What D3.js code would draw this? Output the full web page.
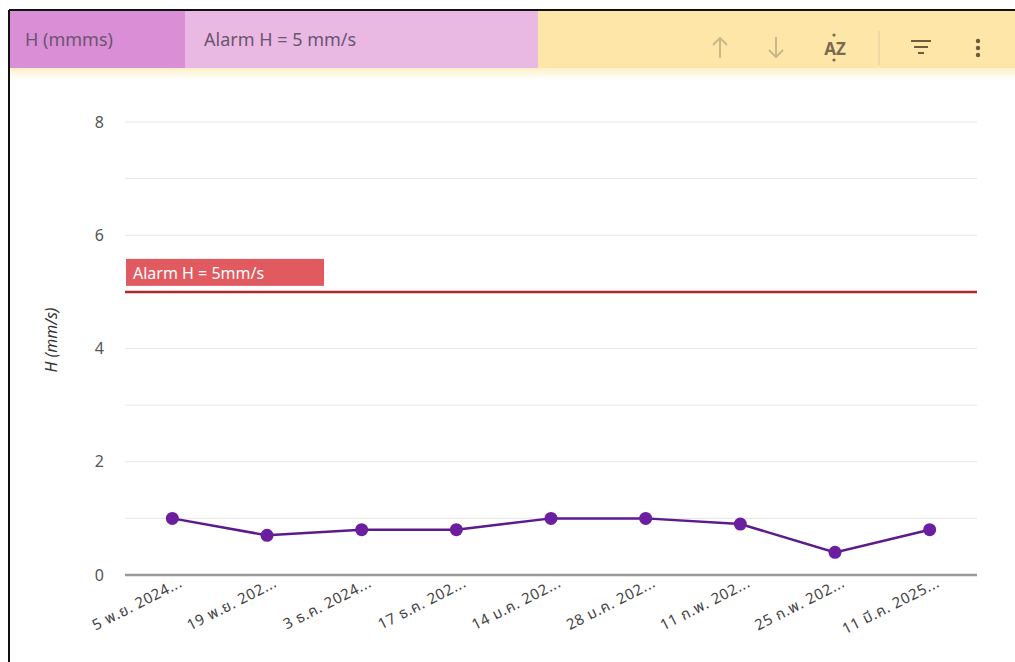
<!DOCTYPE html>
<html>
<head>
<meta charset="utf-8">
<script src="https://cdn.jsdelivr.net/npm/d3@7/dist/d3.min.js"></script>
<style>
  body { margin: 0; background: #fff; font-family: "Noto Sans", "DejaVu Sans", sans-serif; }
</style>
</head>
<body>
<script>
// data
const dates = ["5 พ.ย. 2024...", "19 พ.ย. 202...", "3 ธ.ค. 2024...", "17 ธ.ค. 202...",
  "14 ม.ค. 202...", "28 ม.ค. 202...", "11 ก.พ. 202...", "25 ก.พ. 202...", "11 มี.ค. 2025..."];
const hValues = [1.0, 0.7, 0.8, 0.8, 1.0, 1.0, 0.9, 0.4, 0.8];
const yTicks = [0, 2, 4, 6, 8];
const gridTicks = [0, 1, 2, 3, 4, 5, 6, 7, 8];
const alarmValue = 5;
const alarmLabel = "Alarm H = 5mm/s";
const headerCells = ["H (mmms)", "Alarm H = 5 mm/s"];

const W = 1015, H = 662;
const plot = { left: 125, right: 977, top: 122, bottom: 575 };

const svg = d3.select("body").append("svg")
    .attr("width", W)
    .attr("height", H);

// gradient under the header
const defs = svg.append("defs");
const grad = defs.append("linearGradient").attr("id", "fade")
    .attr("x1", 0).attr("y1", 0).attr("x2", 0).attr("y2", 1);
grad.append("stop").attr("offset", "0%").attr("stop-color", "#fdf0c8");
grad.append("stop").attr("offset", "100%").attr("stop-color", "#ffffff");

// header bar
svg.append("rect").attr("x", 10).attr("y", 11).attr("width", W - 10).attr("height", 57).attr("fill", "#fde6a8");
svg.append("rect").attr("x", 10).attr("y", 68).attr("width", W - 10).attr("height", 12).attr("fill", "url(#fade)");
svg.append("rect").attr("x", 10).attr("y", 11).attr("width", 175).attr("height", 57).attr("fill", "#d98ed6");
svg.append("rect").attr("x", 185).attr("y", 11).attr("width", 353).attr("height", 57).attr("fill", "#e9b9e3");

svg.append("text").attr("x", 25).attr("y", 46).text(headerCells[0])
    .style("font-size", "18px").attr("fill", "#6a5470");
svg.append("text").attr("x", 204).attr("y", 46).text(headerCells[1])
    .style("font-size", "18px").attr("fill", "#6a5470");

// frame
svg.append("line").attr("x1", 9).attr("x2", W).attr("y1", 10).attr("y2", 10)
    .attr("stroke", "#111").attr("stroke-width", 2);
svg.append("line").attr("x1", 9).attr("x2", 9).attr("y1", 10).attr("y2", H)
    .attr("stroke", "#111").attr("stroke-width", 2);

// toolbar icons
const icons = svg.append("g");
const light = "#cbb98c", dark = "#6e5b3a";
// up arrow
icons.append("path").attr("d", "M720,58 L720,38 M713,45 L720,38 L727,45")
    .attr("stroke", light).attr("stroke-width", 2).attr("fill", "none");
// down arrow
icons.append("path").attr("d", "M776,37 L776,57 M769,50 L776,57 L783,50")
    .attr("stroke", light).attr("stroke-width", 2).attr("fill", "none");
icons.append("text").attr("x", 835).attr("y", 55).attr("text-anchor", "middle")
    .text("AZ").style("font-size", "17px").style("font-weight", "bold").attr("fill", "#7a6a52");
icons.append("circle").attr("cx", 834).attr("cy", 35).attr("r", 1.6).attr("fill", "#7a6a52");
icons.append("circle").attr("cx", 834).attr("cy", 60).attr("r", 1.6).attr("fill", "#7a6a52");
icons.append("line").attr("x1", 879).attr("x2", 879).attr("y1", 31).attr("y2", 65)
    .attr("stroke", "#eed9a4").attr("stroke-width", 2);
icons.append("path").attr("d", "M911,41 L931,41 M914,47 L928,47 M918,53 L924,53")
    .attr("stroke", dark).attr("stroke-width", 2).attr("fill", "none");
[41, 48, 55].forEach(y => icons.append("circle").attr("cx", 978).attr("cy", y).attr("r", 2.2).attr("fill", dark));

// scales
const xScale = d3.scaleBand().domain(dates).range([plot.left, plot.right]);
const yScale = d3.scaleLinear().domain([0, 8]).range([plot.bottom, plot.top]);

// grid lines
svg.append("g").selectAll("line")
    .data(gridTicks.filter(d => d > 0))
    .enter().append("line")
    .attr("x1", plot.left).attr("x2", plot.right)
    .attr("y1", d => yScale(d)).attr("y2", d => yScale(d))
    .attr("stroke", "#e6e6e6").attr("stroke-width", 1);

// y axis labels
const yAxis = svg.append("g")
    .attr("transform", "translate(" + plot.left + ",0)")
    .call(d3.axisLeft(yScale).tickValues(yTicks).tickSize(0).tickPadding(21));
yAxis.select(".domain").remove();
yAxis.selectAll("text").style("font-size", "16px").attr("fill", "#555")
    .style("font-family", "'Noto Sans', sans-serif");

svg.append("text")
    .attr("text-anchor", "middle")
    .attr("transform", "translate(" + 57 + "," + 340 + ")rotate(-90)")
    .text("H (mm/s)")
    .style("font-size", "16px").style("font-style", "italic").attr("fill", "#333");

// baseline
svg.append("line").attr("x1", plot.left).attr("x2", plot.right)
    .attr("y1", yScale(0)).attr("y2", yScale(0))
    .attr("stroke", "#999").attr("stroke-width", 2.5);

// x axis labels
const xAxis = svg.append("g")
    .attr("transform", "translate(0," + (plot.bottom) + ")")
    .call(d3.axisBottom(xScale).tickSize(0).tickPadding(0));
xAxis.select(".domain").remove();
xAxis.selectAll("text")
    .attr("text-anchor", "end")
    .attr("dy", 0)
    .attr("transform", "translate(11,11)rotate(-27)")
    .style("font-size", "15px").style("letter-spacing", "0.6px").attr("fill", "#444")
    .style("font-family", "'Noto Sans', 'Noto Sans Thai', 'DejaVu Sans', sans-serif");

// alarm line
svg.append("line").attr("x1", plot.left).attr("x2", plot.right)
    .attr("y1", yScale(alarmValue)).attr("y2", yScale(alarmValue))
    .attr("stroke", "#b3262a").attr("stroke-width", 2.5);
svg.append("rect").attr("x", 126).attr("y", yScale(alarmValue) - 33)
    .attr("width", 198).attr("height", 27).attr("fill", "#e05a60");
svg.append("text").attr("x", 133).attr("y", yScale(alarmValue) - 13)
    .text(alarmLabel).style("font-size", "16px").attr("fill", "#fff");

// line + dots
const cx = d => xScale(d) + xScale.bandwidth() / 2;
const line = d3.line()
    .x((d, i) => cx(dates[i]))
    .y(d => yScale(d));

svg.append("path")
    .datum(hValues)
    .attr("d", line)
    .attr("fill", "none")
    .attr("stroke", "#5c1a8c")
    .attr("stroke-width", 2.5);

svg.selectAll("circle.pt")
    .data(hValues)
    .enter().append("circle")
    .attr("class", "pt")
    .attr("cx", (d, i) => cx(dates[i]))
    .attr("cy", d => yScale(d))
    .attr("r", 6.5)
    .attr("fill", "#6c1ea0");
</script>
</body>
</html>
